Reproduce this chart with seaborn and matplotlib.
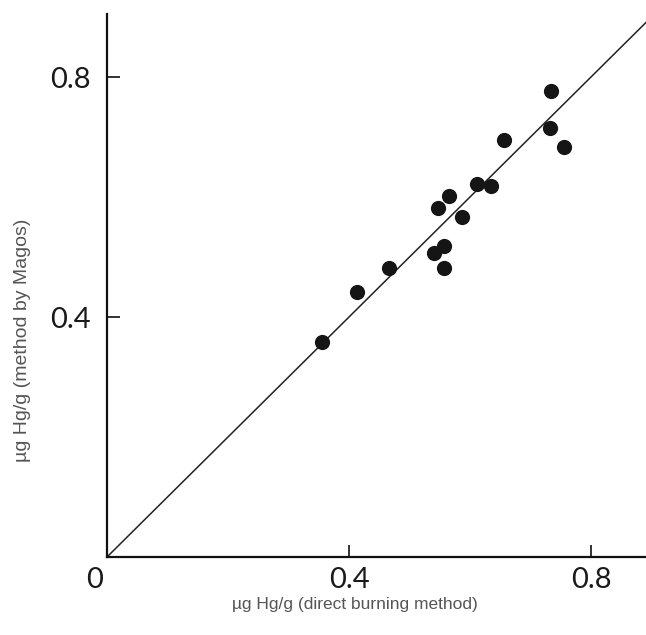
import matplotlib
matplotlib.use("Agg")
import matplotlib.pyplot as plt
import seaborn as sns
import pandas as pd

# Data
direct_burning = [0.355, 0.414, 0.466, 0.541, 0.557, 0.557, 0.547, 0.565,
                  0.586, 0.612, 0.635, 0.656, 0.733, 0.734, 0.755]
magos_method = [0.359, 0.441, 0.481, 0.506, 0.518, 0.481, 0.581, 0.602,
                0.567, 0.621, 0.619, 0.695, 0.715, 0.777, 0.684]
line_x = [0.0, 1.0]
line_y = [0.0, 1.0]
x_ticks = [0.4, 0.8]
y_ticks = [0.4, 0.8]
x_label = "\u00b5g Hg/g (direct burning method)"
y_label = "\u00b5g Hg/g (method by Magos)"

df = pd.DataFrame({"direct": direct_burning, "magos": magos_method})

sns.set_theme(style="ticks")
plt.rcParams["font.family"] = ["Lato", "DejaVu Sans"]

fig = plt.figure(figsize=(6.46, 6.35), dpi=100)
ax = fig.add_axes([107 / 646, 78 / 635, 1 - 107 / 646, (557 - 14) / 635])

ax.plot(line_x, line_y, color="#222222", lw=1.1, zorder=1)
sns.scatterplot(data=df, x="direct", y="magos", ax=ax, s=120,
                color="#151515", edgecolor="#151515", linewidth=0, zorder=3)

ax.set_xlim(0, (646 - 107) / 605)
ax.set_ylim(0, (557 - 14) / 600)
ax.set_xticks(x_ticks)
ax.set_yticks(y_ticks)
ax.set_xticklabels([f"{t:.1f}" for t in x_ticks])
ax.set_yticklabels([f"{t:.1f}" for t in y_ticks])

for s in ["top", "right"]:
    ax.spines[s].set_visible(False)
for s in ["left", "bottom"]:
    ax.spines[s].set_linewidth(1.6)
    ax.spines[s].set_color("#111111")

ax.tick_params(axis="both", direction="in", length=9, width=1.2,
               color="#111111", labelsize=21, labelcolor="#1a1a1a")
ax.tick_params(axis="x", pad=7)
ax.tick_params(axis="y", pad=12)

ax.annotate("0", xy=(0, 0), xytext=(-9, -7), textcoords="offset points",
            ha="center", va="top", fontsize=21, color="#1a1a1a",
            annotation_clip=False)

ax.set_xlabel(x_label, fontsize=12.5, color="#555555",
              family=["Liberation Sans", "DejaVu Sans"])
ax.set_ylabel(y_label, fontsize=14, color="#555555",
              family=["Liberation Sans", "DejaVu Sans"])
ax.xaxis.set_label_coords((355 - 107) / 539, (557 - 597) / 543)
ax.yaxis.set_label_coords((31 - 107) / 539, (557 - 340) / 543)
ax.set_facecolor("white")
fig.patch.set_facecolor("white")

fig.savefig("out.png", dpi=100)
